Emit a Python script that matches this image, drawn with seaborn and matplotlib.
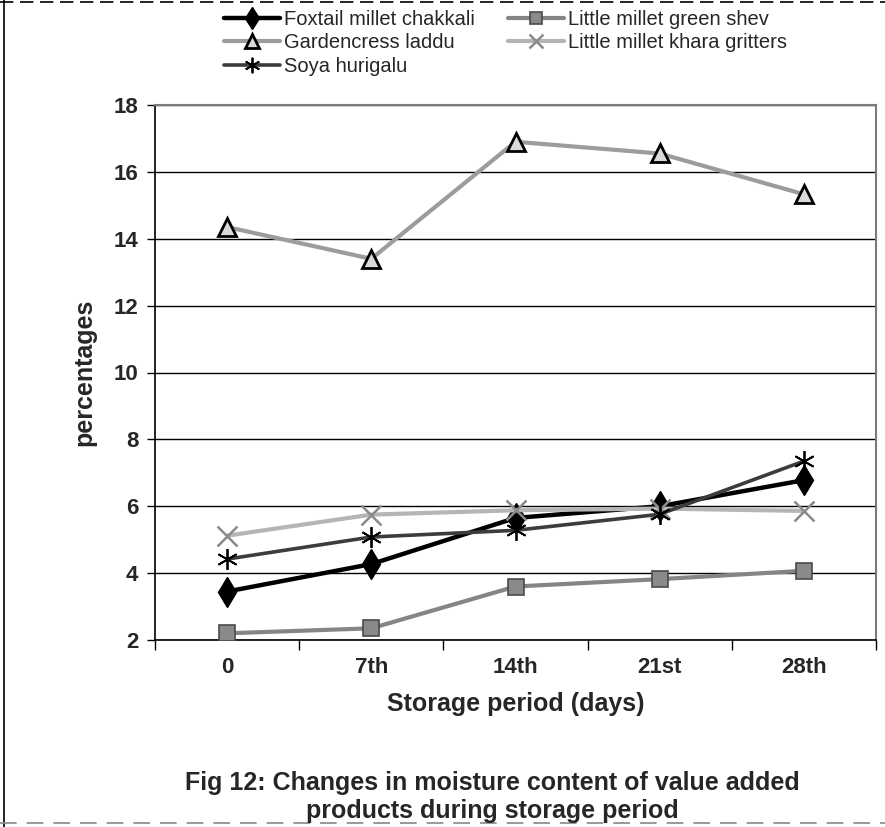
import numpy as np
import pandas as pd
import seaborn as sns
import matplotlib
matplotlib.use("Agg")
import matplotlib.pyplot as plt
from matplotlib.lines import Line2D

# ---- data ----
days = ["0", "7th", "14th", "21st", "28th"]
foxtail_chakkali = [3.45, 4.27, 5.65, 6.0, 6.78]
green_shev = [2.2, 2.35, 3.6, 3.82, 4.07]
gardencress_laddu = [14.35, 13.4, 16.9, 16.55, 15.33]
khara_gritters = [5.12, 5.75, 5.88, 5.93, 5.86]
soya_hurigalu = [4.42, 5.08, 5.28, 5.76, 7.35]

series_names = ["Foxtail millet chakkali", "Little millet green shev",
                "Gardencress laddu", "Little millet khara gritters",
                "Soya hurigalu"]
series_values = [foxtail_chakkali, green_shev, gardencress_laddu,
                 khara_gritters, soya_hurigalu]

df = pd.DataFrame({
    "day": days * len(series_names),
    "value": np.concatenate(series_values),
    "series": np.repeat(series_names, len(days)),
})

styles = {
    "Foxtail millet chakkali": dict(color="#000000", lw=3.2, marker="d", ms=15,
                                    mfc="#000000", mec="#000000", mew=1),
    "Little millet green shev": dict(color="#858585", lw=3.0, marker="s", ms=11,
                                     mfc="#8a8a8a", mec="#4a4a4a", mew=1.2),
    "Gardencress laddu": dict(color="#9c9c9c", lw=3.0, marker="^", ms=13,
                              mfc="#d9d9d9", mec="#000000", mew=2),
    "Little millet khara gritters": dict(color="#b5b5b5", lw=3.0, marker="x", ms=14,
                                         mfc="#8a8a8a", mec="#8a8a8a", mew=1.8),
    "Soya hurigalu": dict(color="#3c3c3c", lw=2.6, marker=(6, 2, 0), ms=15,
                          mfc="#000000", mec="#000000", mew=1.3),
}

sns.set_theme(style="white")
plt.rcParams["font.family"] = ["Liberation Sans", "DejaVu Sans"]

fig = plt.figure(figsize=(8.85, 8.27), dpi=100)
ax = fig.add_axes([155 / 885, (827 - 640) / 827, 721 / 885, 535 / 827])

for name in series_names:
    st = styles[name]
    sub = df[df["series"] == name]
    sns.lineplot(data=sub, x="day", y="value", ax=ax, sort=False,
                 color=st["color"], linewidth=st["lw"], marker=st["marker"],
                 markersize=st["ms"], markerfacecolor=st["mfc"],
                 markeredgecolor=st["mec"], markeredgewidth=st["mew"],
                 label=name, zorder=3)

h, l = ax.get_legend_handles_labels()
hd = dict(zip(l, h))
if ax.get_legend() is not None:
    ax.get_legend().remove()

order = ["Foxtail millet chakkali", "Gardencress laddu", "Soya hurigalu",
         "Little millet green shev", "Little millet khara gritters"]
leg = fig.legend([hd[n] for n in order], order, ncol=2, loc="upper left",
                 bbox_to_anchor=(224 / 885, 1 - 10 / 827), frameon=False,
                 fontsize=14.5, handlelength=2.8, handletextpad=0.2,
                 columnspacing=1.6, labelspacing=0.22, borderpad=0,
                 borderaxespad=0, markerscale=0.75)

# axes
ax.set_xlim(-0.5, 4.5)
ax.set_ylim(2, 18)
ax.set_yticks(np.arange(2, 19, 2))
ax.set_xticks(range(len(days)))
ax.set_xticklabels(days)
ax.set_xticks(np.arange(-0.5, 4.6, 1), minor=True)
ax.tick_params(axis="x", which="major", length=0, pad=12, labelsize=16)
ax.tick_params(axis="x", which="minor", length=7, width=1, direction="out",
               color="black", bottom=True)
ax.tick_params(axis="y", which="major", length=6, width=1, direction="out",
               color="black", pad=6, labelsize=16, left=True)
for t in ax.get_xticklabels() + ax.get_yticklabels():
    t.set_fontweight("bold")

ax.yaxis.grid(True, color="black", lw=1)
ax.xaxis.grid(False)
ax.set_axisbelow(True)

for s in ["left", "bottom"]:
    ax.spines[s].set_color("black")
    ax.spines[s].set_linewidth(1.2)
for s in ["top", "right"]:
    ax.spines[s].set_color("#7a7a7a")
    ax.spines[s].set_linewidth(1.5)
    ax.spines[s].set_linestyle((0, (1, 1)))

ax.set_xlabel("Storage period (days)", fontsize=18, fontweight="bold", labelpad=10)
ax.set_ylabel("percentages", fontsize=18, fontweight="bold")
ax.yaxis.set_label_coords((96 - 155) / 721, 0.5)

fig.text(492 / 885, 1 - 797 / 827,
         "Fig 12: Changes in moisture content of value added\nproducts during storage period",
         ha="center", va="center", fontsize=18, fontweight="bold", linespacing=1.25)

# outer figure border
fig.add_artist(Line2D([4 / 885, 4 / 885], [0, 1], transform=fig.transFigure,
                      color="black", lw=1.2))
fig.add_artist(Line2D([0, 1], [1 - 2 / 827, 1 - 2 / 827], transform=fig.transFigure,
                      color="black", lw=1.2, linestyle=(0, (8, 4))))
fig.add_artist(Line2D([0, 1], [1 - 823 / 827, 1 - 823 / 827], transform=fig.transFigure,
                      color="#888888", lw=1.2, linestyle=(0, (10, 6))))

fig.savefig("out.png", dpi=100)
